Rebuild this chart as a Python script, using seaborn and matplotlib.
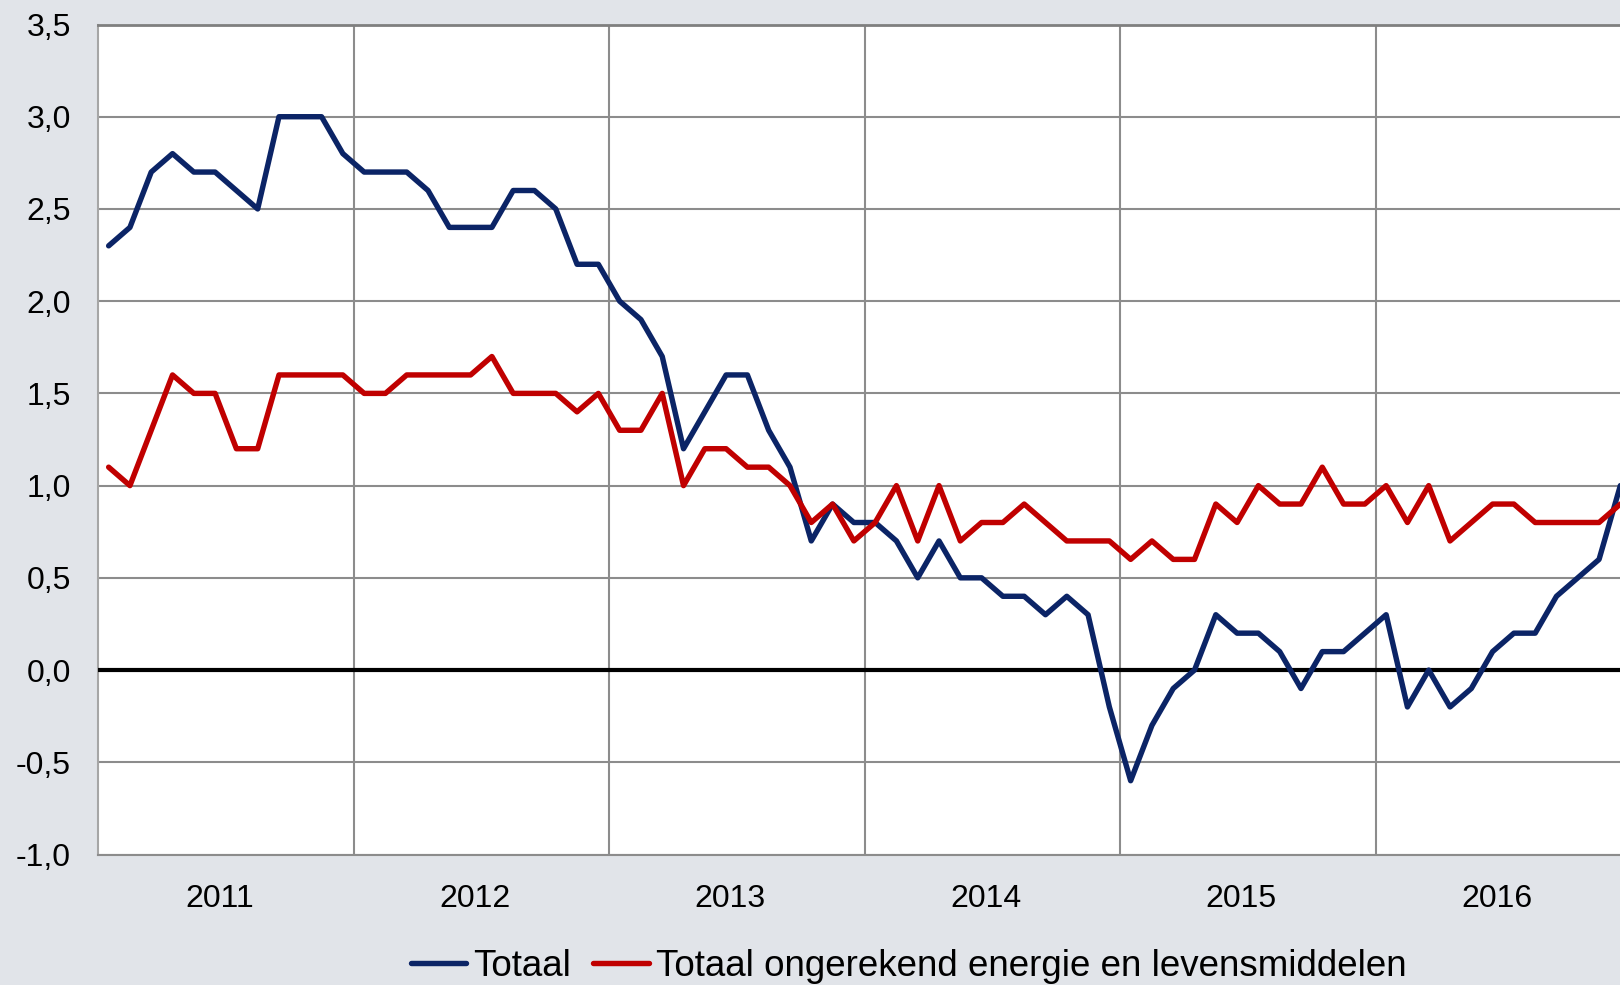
import matplotlib
matplotlib.use("Agg")
import matplotlib.pyplot as plt
import seaborn as sns
import numpy as np
import pandas as pd

# monthly values 2011-01 .. 2016-12 (% change y/y)
years = [2011, 2012, 2013, 2014, 2015, 2016]
totaal = [
    2.3, 2.4, 2.7, 2.8, 2.7, 2.7, 2.6, 2.5, 3.0, 3.0, 3.0, 2.8,
    2.7, 2.7, 2.7, 2.6, 2.4, 2.4, 2.4, 2.6, 2.6, 2.5, 2.2, 2.2,
    2.0, 1.9, 1.7, 1.2, 1.4, 1.6, 1.6, 1.3, 1.1, 0.7, 0.9, 0.8,
    0.8, 0.7, 0.5, 0.7, 0.5, 0.5, 0.4, 0.4, 0.3, 0.4, 0.3, -0.2,
    -0.6, -0.3, -0.1, 0.0, 0.3, 0.2, 0.2, 0.1, -0.1, 0.1, 0.1, 0.2,
    0.3, -0.2, 0.0, -0.2, -0.1, 0.1, 0.2, 0.2, 0.4, 0.5, 0.6, 1.0,
]
kern = [
    1.1, 1.0, 1.3, 1.6, 1.5, 1.5, 1.2, 1.2, 1.6, 1.6, 1.6, 1.6,
    1.5, 1.5, 1.6, 1.6, 1.6, 1.6, 1.7, 1.5, 1.5, 1.5, 1.4, 1.5,
    1.3, 1.3, 1.5, 1.0, 1.2, 1.2, 1.1, 1.1, 1.0, 0.8, 0.9, 0.7,
    0.8, 1.0, 0.7, 1.0, 0.7, 0.8, 0.8, 0.9, 0.8, 0.7, 0.7, 0.7,
    0.6, 0.7, 0.6, 0.6, 0.9, 0.8, 1.0, 0.9, 0.9, 1.1, 0.9, 0.9,
    1.0, 0.8, 1.0, 0.7, 0.8, 0.9, 0.9, 0.8, 0.8, 0.8, 0.8, 0.9,
]
series_names = ["Totaal", "Totaal ongerekend energie en levensmiddelen"]
colors = ["#0B2466", "#C00000"]

months = np.arange(len(totaal))
df = pd.DataFrame({
    "maand": np.concatenate([months, months]),
    "waarde": totaal + kern,
    "reeks": [series_names[0]] * len(totaal) + [series_names[1]] * len(kern),
})

sns.set_style("white")
plt.rcParams["font.family"] = ["Liberation Sans", "DejaVu Sans"]
plt.rcParams["text.color"] = "black"

bg = "#E1E4E9"
fig = plt.figure(figsize=(16.2, 9.85), dpi=100, facecolor=bg)
# plot area runs a little past the right edge of the picture
ax = fig.add_axes([98 / 1620, 130.5 / 985, 1533 / 1620, 830 / 985])
ax.set_facecolor("white")

sns.lineplot(data=df, x="maand", y="waarde", hue="reeks", palette=colors,
             linewidth=3.9, ax=ax, legend=True, zorder=4)
ax.axhline(0, color="black", linewidth=3.0, zorder=3)

ax.set_xlim(-0.5, len(totaal) - 0.5)
ax.set_ylim(-1.0, 3.5)
yt = np.arange(-1.0, 3.51, 0.5)
ax.set_yticks(yt)
ax.set_yticklabels([f"{v:.1f}".replace(".", ",") for v in yt])
ax.set_xticks([12 * i + 5.2 for i in range(len(years))])
ax.set_xticklabels([str(y) for y in years])
ax.set_xticks([12 * i - 0.5 for i in range(1, len(years))], minor=True)

ax.grid(True, axis="y", which="major", color="#8C8C8C", linewidth=1.5, zorder=1)
ax.grid(True, axis="x", which="minor", color="#8C8C8C", linewidth=1.5, zorder=1)
ax.grid(False, axis="x", which="major")
ax.set_axisbelow(True)

ax.tick_params(axis="y", which="major", length=10, width=1.5, color="#A6A6A6",
               pad=9.5, labelsize=23, labelcolor="black")
ax.tick_params(axis="x", which="both", length=0, pad=21, labelsize=23,
               labelcolor="black")
ax.set_xlabel("")
ax.set_ylabel("")

ax.spines["left"].set_color("#A6A6A6")
ax.spines["left"].set_linewidth(1.5)
ax.spines["bottom"].set_color("#8C8C8C")
ax.spines["bottom"].set_linewidth(1.5)
ax.spines["top"].set_color("#7F7F7F")
ax.spines["top"].set_linewidth(2.0)
ax.spines["right"].set_visible(False)

handles, labels = ax.get_legend_handles_labels()
ax.get_legend().remove()
fig.legend(handles, labels, loc="center", bbox_to_anchor=(0.561, 1 - 966 / 985),
           ncol=2, frameon=False, fontsize=26.5, handlelength=1.5,
           handletextpad=0.2, columnspacing=0.6, labelcolor="black")

fig.savefig("out.png", dpi=100, facecolor=bg)
